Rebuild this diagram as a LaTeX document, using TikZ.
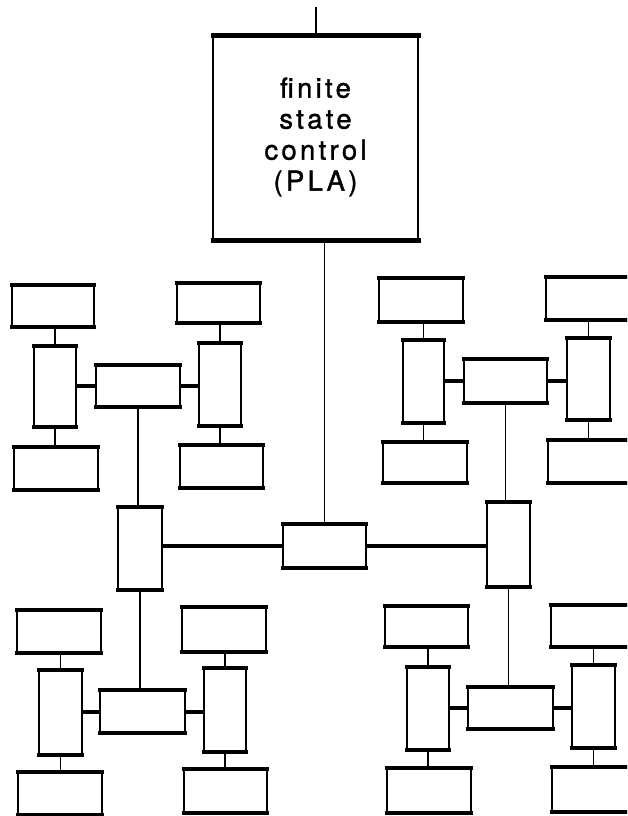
\documentclass[tikz,border=0pt]{standalone}
\usepackage{fontspec}
\newfontfamily\plafont{TeX Gyre Heros}[LetterSpace=12,FakeBold=1.2]
\tikzset{
  bx/.style={draw, line width=1.9pt, inner sep=0pt, outer sep=0pt, fill=white},
  boxedge/.style={line width=4.5pt, line cap=rect},
  thinline/.style={line width=1.8pt},
  thickline/.style={line width=4pt},
}
\newcommand\mybox[5]{%
  \node[bx, minimum width={(#4-#2)*1pt}, minimum height={(#5-#3)*1pt}] (#1) at ({(#2+#4)/2},{(#3+#5)/2}) {};
  \draw[boxedge] (#1.north west) -- (#1.north east) (#1.south west) -- (#1.south east);}
\begin{document}
\begin{tikzpicture}[x=1pt,y=-1pt]
\useasboundingbox (0,0) rectangle (627,816);
\fill[white] (0,0) rectangle (627,816);
\clip (0,0) rectangle (627,816);
% finite state control
\node[bx, line width=2.4pt, minimum width=205pt, minimum height=204pt] (pla) at (315.5,138) {};
\draw[boxedge, line width=5pt] (pla.north west) -- (pla.north east) (pla.south west) -- (pla.south east);
\node[align=center, font=\plafont\fontsize{27.5}{31}\selectfont] (plat) at ([yshift=1pt]pla.center) {finite\\state\\control\\(PLA)};
\coordinate (in) at (316,7);
\draw[thinline] (in) -- (in |- pla.north);
% middle level
\mybox{ml}{118}{507}{162}{590}
\mybox{c}{283}{524}{366}{568}
\mybox{mr}{487}{502}{530}{587}
\draw[thinline] (c.north) -- (c.north |- pla.south);
\draw[thickline] (c.west) -- (c.west -| ml.east);
\draw[thickline] (c.east) -- (c.east -| mr.west);
% quadrant top-left
\mybox{aT1}{12}{285}{94}{327}
\mybox{aT2}{177}{283}{260}{323}
\mybox{aV1}{34}{346}{76}{427}
\mybox{aH}{96}{365}{180}{407}
\mybox{aV2}{199}{343}{241}{426}
\mybox{aB1}{14}{447}{98}{490}
\mybox{aB2}{180}{445}{263}{488}
% quadrant top-right
\mybox{bT1}{379}{278}{463}{322}
\mybox{bT2}{546}{277}{640}{320}
\mybox{bV1}{403}{340}{444}{423}
\mybox{bH}{464}{359}{547}{403}
\mybox{bV2}{567}{338}{610}{420}
\mybox{bB1}{383}{442}{467}{483}
\mybox{bB2}{548}{440}{640}{483}
% quadrant bottom-left
\mybox{cT1}{17}{610}{101}{653}
\mybox{cT2}{182}{607}{266}{652}
\mybox{cV1}{39}{670}{82}{755}
\mybox{cH}{100}{690}{185}{733}
\mybox{cV2}{204}{668}{246}{752}
\mybox{cB1}{18}{772}{102}{815}
\mybox{cB2}{184}{769}{267}{813}
% quadrant bottom-right
\mybox{dT1}{385}{606}{468}{647}
\mybox{dT2}{551}{605}{640}{647}
\mybox{dV1}{407}{667}{449}{750}
\mybox{dH}{468}{687}{553}{729}
\mybox{dV2}{572}{665}{615}{748}
\mybox{dB1}{387}{768}{471}{813}
\mybox{dB2}{552}{767}{640}{812}
% quadrant connectors
\foreach \q in {a,b,c,d}{
  \draw[thinline] (\q V1.north) -- (\q V1.north |- \q T1.south);
  \draw[thinline] (\q V1.south) -- (\q V1.south |- \q B1.north);
  \draw[thinline] (\q V2.north) -- (\q V2.north |- \q T2.south);
  \draw[thinline] (\q V2.south) -- (\q V2.south |- \q B2.north);
  \draw[thickline] (\q H.west) -- (\q H.west -| \q V1.east);
  \draw[thickline] (\q H.east) -- (\q H.east -| \q V2.west);
}
\draw[thinline] (aH.south) -- (aH.south |- ml.north);
\draw[thinline] (ml.south) -- (ml.south |- cH.north);
\draw[thinline] (bH.south) -- (bH.south |- mr.north);
\draw[thinline] (mr.south) -- (mr.south |- dH.north);
\end{tikzpicture}
\end{document}
